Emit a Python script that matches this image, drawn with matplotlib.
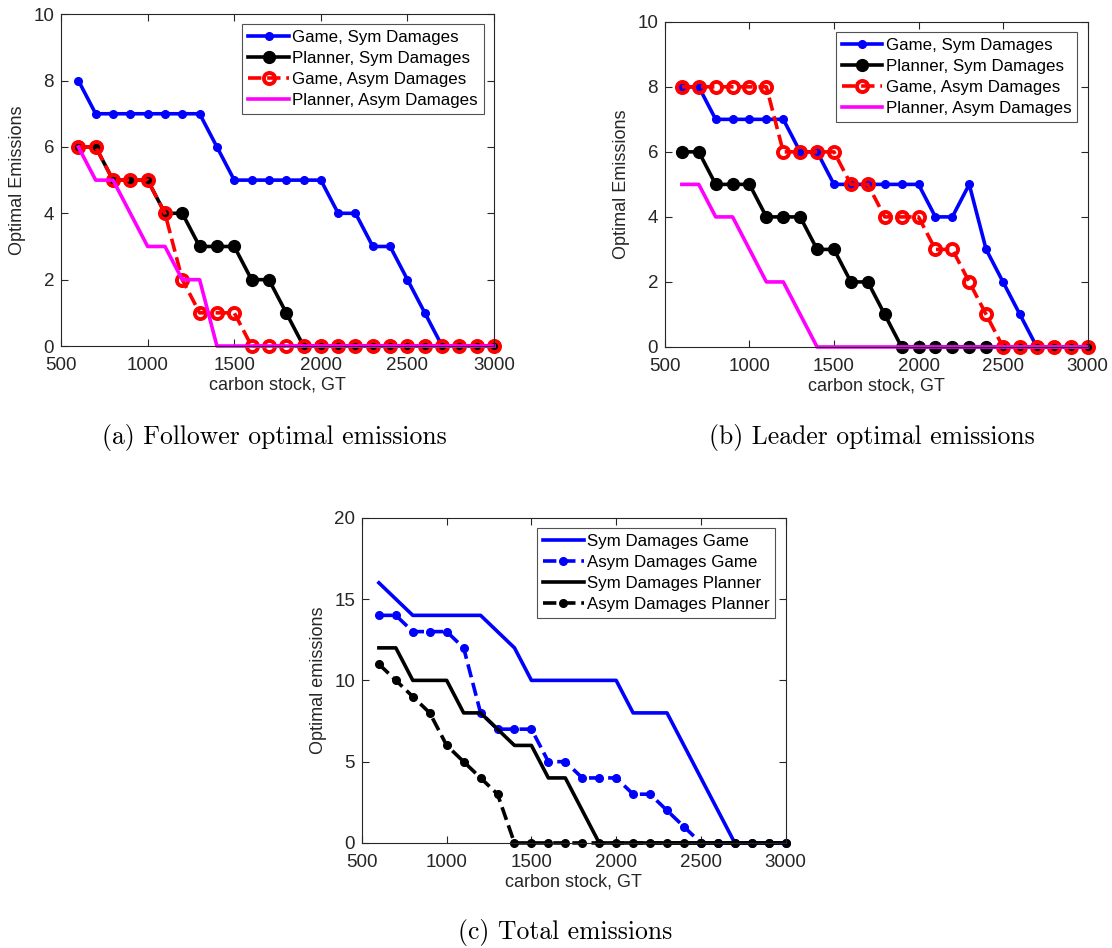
import numpy as np
import matplotlib
matplotlib.use("Agg")
import matplotlib.pyplot as plt

# carbon stock grid, GT
carbon = np.arange(600, 3001, 100)

# (a) follower optimal emissions
foll_game_sym = [8, 7, 7, 7, 7, 7, 7, 7, 6, 5, 5, 5, 5, 5, 5, 4, 4, 3, 3, 2, 1, 0, 0, 0, 0]
foll_plan_sym = [6, 6, 5, 5, 5, 4, 4, 3, 3, 3, 2, 2, 1, 0, 0, 0, 0, 0, 0, 0, 0, 0, 0, 0, 0]
foll_game_asym = [6, 6, 5, 5, 5, 4, 2, 1, 1, 1, 0, 0, 0, 0, 0, 0, 0, 0, 0, 0, 0, 0, 0, 0, 0]
foll_plan_asym = [6, 5, 5, 4, 3, 3, 2, 2, 0, 0, 0, 0, 0, 0, 0, 0, 0, 0, 0, 0, 0, 0, 0, 0, 0]

# (b) leader optimal emissions
lead_game_sym = [8, 8, 7, 7, 7, 7, 7, 6, 6, 5, 5, 5, 5, 5, 5, 4, 4, 5, 3, 2, 1, 0, 0, 0, 0]
lead_plan_sym = [6, 6, 5, 5, 5, 4, 4, 4, 3, 3, 2, 2, 1, 0, 0, 0, 0, 0, 0, 0, 0, 0, 0, 0, 0]
lead_game_asym = [8, 8, 8, 8, 8, 8, 6, 6, 6, 6, 5, 5, 4, 4, 4, 3, 3, 2, 1, 0, 0, 0, 0, 0, 0]
lead_plan_asym = [5, 5, 4, 4, 3, 2, 2, 1, 0, 0, 0, 0, 0, 0, 0, 0, 0, 0, 0, 0, 0, 0, 0, 0, 0]

# (c) total emissions
tot_game_sym = [16, 15, 14, 14, 14, 14, 14, 13, 12, 10, 10, 10, 10, 10, 10, 8, 8, 8, 6, 4, 2, 0, 0, 0, 0]
tot_game_asym = [14, 14, 13, 13, 13, 12, 8, 7, 7, 7, 5, 5, 4, 4, 4, 3, 3, 2, 1, 0, 0, 0, 0, 0, 0]
tot_plan_sym = [12, 12, 10, 10, 10, 8, 8, 7, 6, 6, 4, 4, 2, 0, 0, 0, 0, 0, 0, 0, 0, 0, 0, 0, 0]
tot_plan_asym = [11, 10, 9, 8, 6, 5, 4, 3, 0, 0, 0, 0, 0, 0, 0, 0, 0, 0, 0, 0, 0, 0, 0, 0, 0]

plt.rcParams['font.family'] = ['Liberation Sans', 'DejaVu Sans']
plt.rcParams['font.size'] = 13
gray = '#262626'
lw = 2.6

fig = plt.figure(figsize=(11.12, 9.48), dpi=100)
ax_a = fig.add_axes([0.0549, 0.635, 0.3894, 0.350])
ax_b = fig.add_axes([0.598, 0.634, 0.380, 0.343])
ax_c = fig.add_axes([0.3255, 0.1108, 0.381, 0.343])


def style(ax, ymax, ystep, ylabel):
    ax.set_xlim(500, 3000)
    ax.set_ylim(0, ymax)
    ax.set_xticks(np.arange(500, 3001, 500))
    ax.set_yticks(np.arange(0, ymax + 1, ystep))
    ax.tick_params(direction='in', top=True, right=True, length=5, width=0.8,
                   colors=gray, labelsize=13.5)
    ax.tick_params(axis='x', pad=8)
    ax.tick_params(axis='y', pad=5)
    for s in ax.spines.values():
        s.set_color(gray)
        s.set_linewidth(0.8)
    ax.set_xlabel('carbon stock, GT', color=gray, fontsize=13, labelpad=2)
    ax.set_ylabel(ylabel, color=gray, fontsize=13, labelpad=5)


def emissions_panel(ax, game_sym, plan_sym, game_asym, plan_asym):
    ax.plot(carbon, game_sym, '-o', color='blue', lw=lw, ms=5.5, label='Game, Sym Damages', clip_on=False)
    ax.plot(carbon, plan_sym, '-o', color='black', lw=lw, ms=8.5, label='Planner, Sym Damages', clip_on=False)
    ax.plot(carbon, game_asym, '--o', color='red', lw=lw, ms=8, mfc='none', mew=2.8,
            label='Game, Asym Damages', clip_on=False)
    ax.plot(carbon, plan_asym, '-', color='magenta', lw=lw, label='Planner, Asym Damages', clip_on=False)


def legend(ax):
    leg = ax.legend(loc='upper right', fontsize=12.2, frameon=True, fancybox=False,
                    handlelength=2.4, handletextpad=0.2, labelspacing=0.35,
                    borderpad=0.35, borderaxespad=0.6)
    leg.get_frame().set_edgecolor(gray)
    leg.get_frame().set_linewidth(0.8)


emissions_panel(ax_a, foll_game_sym, foll_plan_sym, foll_game_asym, foll_plan_asym)
style(ax_a, 10, 2, 'Optimal Emissions')
legend(ax_a)

emissions_panel(ax_b, lead_game_sym, lead_plan_sym, lead_game_asym, lead_plan_asym)
style(ax_b, 10, 2, 'Optimal Emissions')
legend(ax_b)

ax_c.plot(carbon, tot_game_sym, '-', color='blue', lw=lw, label='Sym Damages Game', clip_on=False)
ax_c.plot(carbon, tot_game_asym, '--o', color='blue', lw=lw, ms=5.5, label='Asym Damages Game', clip_on=False)
ax_c.plot(carbon, tot_plan_sym, '-', color='black', lw=lw, label='Sym Damages Planner', clip_on=False)
ax_c.plot(carbon, tot_plan_asym, '--o', color='black', lw=lw, ms=5.5, label='Asym Damages Planner', clip_on=False)
style(ax_c, 20, 5, 'Optimal emissions')
legend(ax_c)

# subfigure captions
cap = dict(family='cmr10', fontsize=18.5, ha='center', va='center')
fig.text(0.247, 0.539, '(a) Follower optimal emissions', **cap)
fig.text(0.784, 0.539, '(b) Leader optimal emissions', **cap)
fig.text(0.508, 0.016, '(c) Total emissions', **cap)

plt.savefig('out.png', dpi=100)
